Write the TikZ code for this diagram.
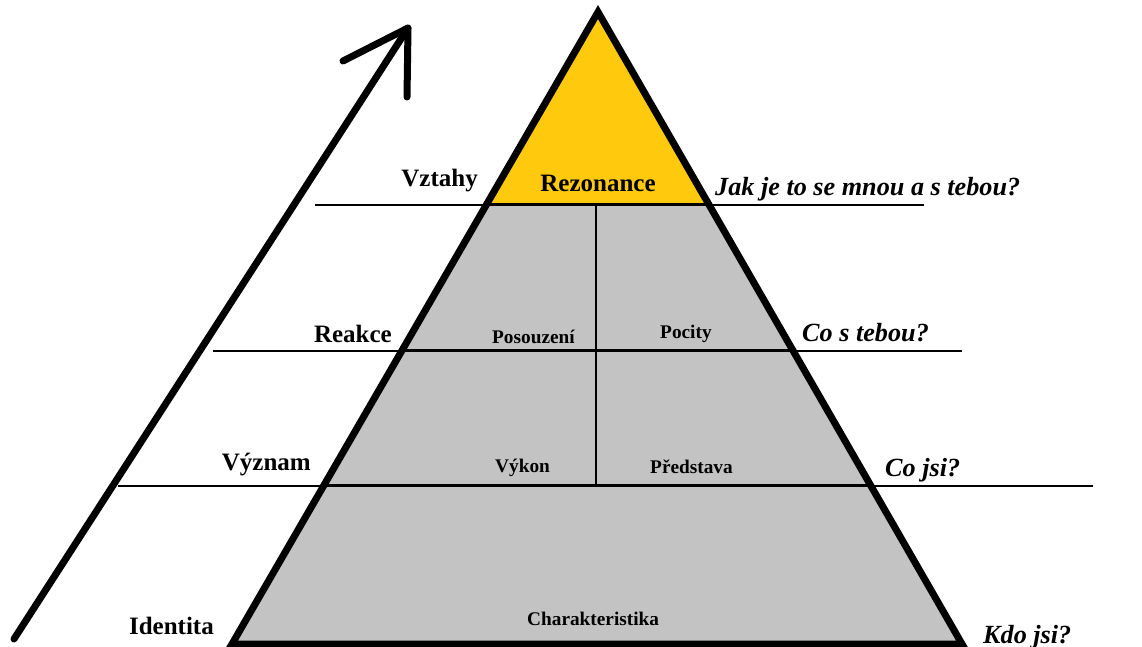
\documentclass[tikz,border=0pt]{standalone}
\usepackage{fontspec}
\setmainfont{Liberation Serif}
\usetikzlibrary{calc}

\definecolor{topyellow}{HTML}{FFC90E}
\definecolor{stonegray}{HTML}{C3C3C3}

\tikzset{
    level/.style={font=\fontsize{25}{25}\selectfont\bfseries, anchor=base east, inner sep=0pt},
    question/.style={font=\fontsize{26.2}{26.2}\selectfont\bfseries\itshape, anchor=base west, inner sep=0pt},
    part/.style={font=\fontsize{19.3}{19.3}\selectfont\bfseries, anchor=base west, inner sep=0pt},
    guide/.style={line width=1.2pt},
    divide/.style={line width=2.6pt},
}

\begin{document}
\begin{tikzpicture}[x=1pt, y=-1pt]
    \useasboundingbox (0,0) rectangle (1142,647);

    % pyramid corners
    \coordinate (apex) at (598,12);
    \coordinate (bl)   at (232,644);
    \coordinate (br)   at (962,644);
    \coordinate (l1) at ($(apex)!0.305!(bl)$);
    \coordinate (r1) at ($(apex)!0.305!(br)$);
    \coordinate (l2) at ($(apex)!0.5355!(bl)$);
    \coordinate (r2) at ($(apex)!0.5355!(br)$);
    \coordinate (l3) at ($(apex)!0.7488!(bl)$);
    \coordinate (r3) at ($(apex)!0.7488!(br)$);

    % guide lines
    \coordinate (g1a) at (315,205);  \coordinate (g1b) at (924,205);
    \coordinate (g2a) at (213,351);  \coordinate (g2b) at (962,351);
    \coordinate (g3a) at (118,486);  \coordinate (g3b) at (1093,486);
    \draw[guide] (g1a) -- (g1b);
    \draw[guide] (g2a) -- (g2b);
    \draw[guide] (g3a) -- (g3b);

    % fills
    \fill[stonegray] (apex) -- (bl) -- (br) -- cycle;
    \fill[topyellow] (apex) -- (l1) -- (r1) -- cycle;

    % inner dividers
    \coordinate (m1) at (596,205);
    \coordinate (m3) at (596,486);
    \draw[divide] (l1) -- (r1);
    \draw[divide] (l2) -- (r2);
    \draw[divide] (l3) -- (r3);
    \draw[divide] (m1) -- (m3);

    % outline
    \draw[line width=7pt, line join=miter] (apex) -- (bl) -- (br) -- cycle;

    % arrow
    \coordinate (tail) at (14,639);
    \coordinate (tip)  at (408,28);
    \coordinate (armL) at (343,61);
    \coordinate (armD) at (407,97);
    \draw[line width=7pt, line cap=round] (tail) -- (tip);
    \draw[line width=7pt, line cap=round, line join=round] (armL) -- (tip) -- (armD);

    % levels
    \node[level] (vztahy)   at (478,186) {Vztahy};
    \node[level] (reakce)   at (392,342) {Reakce};
    \node[level] (vyznam)   at (311,470) {Význam};
    \node[level] (identita) at (214,634) {Identita};

    \node[level, anchor=base] (rezonance) at (598,191) {Rezonance};

    % parts
    \node[part] (posouzeni) at (492,343) {Posouzení};
    \node[part] (pocity)    at (660,338) {Pocity};
    \node[part] (vykon)     at (495,472) {Výkon};
    \node[part] (predstava) at (650,473) {Představa};
    \node[part] (charakter) at (527,625) {Charakteristika};

    % questions
    \node[question] (jak)    at (715,195) {Jak je to se mnou a s tebou?};
    \node[question] (costeb) at (802,341) {Co s tebou?};
    \node[question] (cojsi)  at (885,476) {Co jsi?};
    \node[question] (kdojsi) at (983,643) {Kdo jsi?};
\end{tikzpicture}
\end{document}
